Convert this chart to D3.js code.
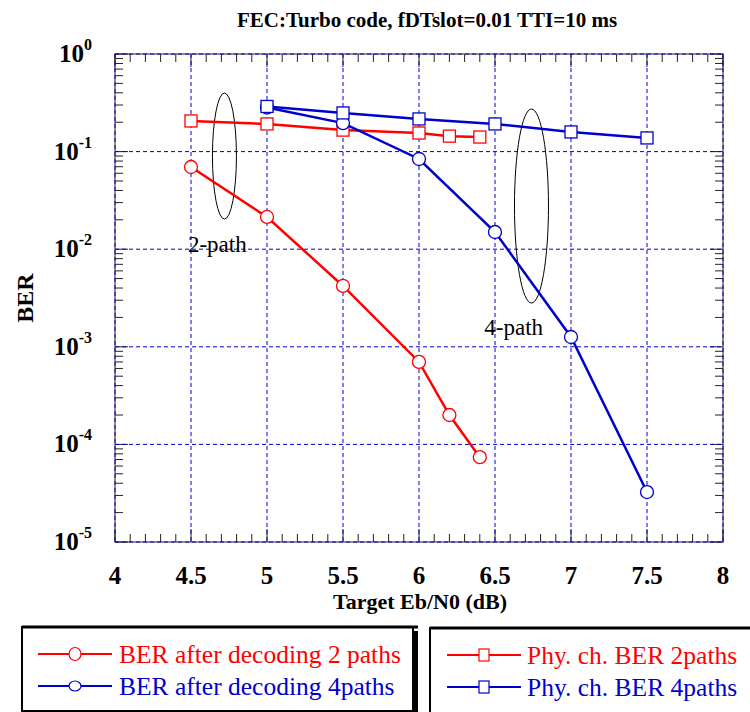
<!DOCTYPE html>
<html>
<head>
<meta charset="utf-8">
<script src="https://cdn.jsdelivr.net/npm/d3@7"></script>
<style>
  body { margin: 0; background: #fff; }
  svg { display: block; }
  svg text { font-family: "Times New Roman", Times, "Liberation Serif", "DejaVu Serif", serif; }
</style>
</head>
<body>
<div id="chart"></div>
<script>
// chart values
var ebn0_2p = [4.5, 5, 5.5, 6, 6.2, 6.4];
var ebn0_4p = [5, 5.5, 6, 6.5, 7, 7.5];
var ber_dec_2p = [0.0695, 0.0214, 0.0042, 0.0007, 0.0002, 0.000074];
var ber_dec_4p = [0.283, 0.196, 0.084, 0.015, 0.00126, 0.0000325];
var ber_phy_2p = [0.206, 0.192, 0.166, 0.155, 0.144, 0.141];
var ber_phy_4p = [0.29, 0.249, 0.216, 0.192, 0.159, 0.138];
var x_ticks = [4, 4.5, 5, 5.5, 6, 6.5, 7, 7.5, 8];
var y_exps = [0, -1, -2, -3, -4, -5];
var legend_left = ["BER after decoding 2 paths", "BER after decoding 4paths"];
var legend_right = ["Phy. ch. BER 2paths", "Phy. ch. BER 4paths"];

var RED = "#ff0000", BLUE = "#0000cc";

var W = 750, H = 712;
var pLeft = 115, pRight = 723, pTop = 54, pBottom = 542;

var svg = d3.select("#chart").append("svg")
  .attr("width", W).attr("height", H);

var x = d3.scaleLinear().domain([4, 8]).range([pLeft, pRight]);
var y = d3.scaleLog().domain([1e-5, 1]).range([pBottom, pTop]);

// title
svg.append("text")
  .attr("x", 427).attr("y", 27)
  .attr("text-anchor", "middle")
  .style("font-size", "21px").style("font-weight", "bold")
  .text("FEC:Turbo code, fDTslot=0.01 TTI=10 ms");

// frame
svg.append("rect")
  .attr("x", pLeft).attr("y", pTop)
  .attr("width", pRight - pLeft).attr("height", pBottom - pTop)
  .attr("fill", "none").attr("stroke", "#444").attr("stroke-width", 1.2);

// minor / major ticks, inward on all four sides
var g_ticks = svg.append("g").attr("stroke", "#222").attr("stroke-width", 1);
var xminor = d3.range(40, 81).map(function(d) { return d / 10; });
xminor.forEach(function(v) {
  var major = Math.abs(v * 2 - Math.round(v * 2)) < 1e-6;
  var len = major ? 13 : 8;
  g_ticks.append("line").attr("x1", x(v)).attr("x2", x(v))
    .attr("y1", pBottom).attr("y2", pBottom - len);
  g_ticks.append("line").attr("x1", x(v)).attr("x2", x(v))
    .attr("y1", pTop).attr("y2", pTop + len);
});
y.ticks().forEach(function(v) {
  var major = Math.abs(Math.log10(v) - Math.round(Math.log10(v))) < 1e-6;
  var len = major ? 13 : 8;
  g_ticks.append("line").attr("x1", pLeft).attr("x2", pLeft + len)
    .attr("y1", y(v)).attr("y2", y(v));
  g_ticks.append("line").attr("x1", pRight).attr("x2", pRight - len)
    .attr("y1", y(v)).attr("y2", y(v));
});

// dashed grid
var grid = svg.append("g")
  .attr("stroke", BLUE).attr("stroke-width", 1).attr("stroke-dasharray", "4,3");
x_ticks.forEach(function(v) {
  grid.append("line").attr("x1", x(v)).attr("x2", x(v))
    .attr("y1", pTop).attr("y2", pBottom);
});
y_exps.forEach(function(e) {
  grid.append("line").attr("x1", pLeft).attr("x2", pRight)
    .attr("y1", y(Math.pow(10, e))).attr("y2", y(Math.pow(10, e)));
});

// x tick labels
svg.append("g").selectAll("text")
  .data(x_ticks).enter().append("text")
  .attr("x", function(d) { return x(d); })
  .attr("y", 584)
  .attr("text-anchor", "middle")
  .style("font-size", "25px").style("font-weight", "bold")
  .text(function(d) { return d; });

// y tick labels, 10 with superscript exponent
var ylab = svg.append("g").selectAll("text")
  .data(y_exps).enter().append("text")
  .attr("x", 92)
  .attr("y", function(d) { return y(Math.pow(10, d)) + 8; })
  .attr("text-anchor", "end")
  .style("font-size", "25px").style("font-weight", "bold");
ylab.append("tspan").text("10");
ylab.append("tspan")
  .attr("dy", -12)
  .style("font-size", "16px")
  .text(function(d) { return d; });

// axis titles
svg.append("text")
  .attr("x", 420).attr("y", 609)
  .attr("text-anchor", "middle")
  .style("font-size", "22px").style("font-weight", "bold")
  .text("Target Eb/N0 (dB)");
svg.append("text")
  .attr("transform", "translate(33," + ((pTop + pBottom) / 2) + ") rotate(-90)")
  .attr("text-anchor", "middle")
  .style("font-size", "24px").style("font-weight", "bold")
  .text("BER");

// annotation ellipses + labels
svg.append("ellipse")
  .attr("cx", x(4.72)).attr("cy", y(0.09))
  .attr("rx", 12).attr("ry", 63)
  .attr("fill", "none").attr("stroke", "#000").attr("stroke-width", 1);
svg.append("text")
  .attr("x", x(4.48)).attr("y", y(0.0093))
  .style("font-size", "23px")
  .text("2-path");
svg.append("ellipse")
  .attr("cx", x(6.74)).attr("cy", y(0.0277))
  .attr("rx", 17).attr("ry", 97)
  .attr("fill", "none").attr("stroke", "#000").attr("stroke-width", 1);
svg.append("text")
  .attr("x", x(6.43)).attr("y", y(0.00132))
  .style("font-size", "23px")
  .text("4-path");

function draw_series(xs, ys, color, shape) {
  var pts = xs.map(function(v, i) { return [v, ys[i]]; });
  svg.append("path")
    .datum(pts)
    .attr("fill", "none").attr("stroke", color).attr("stroke-width", 2.5)
    .attr("d", d3.line()
      .x(function(d) { return x(d[0]); })
      .y(function(d) { return y(d[1]); }));
  if (shape === "circle") {
    svg.append("g").selectAll("circle")
      .data(pts).enter().append("circle")
      .attr("cx", function(d) { return x(d[0]); })
      .attr("cy", function(d) { return y(d[1]); })
      .attr("r", 6.5)
      .attr("fill", "#fff").attr("stroke", color).attr("stroke-width", 1.3);
  } else {
    svg.append("g").selectAll("rect")
      .data(pts).enter().append("rect")
      .attr("x", function(d) { return x(d[0]) - 6; })
      .attr("y", function(d) { return y(d[1]) - 6; })
      .attr("width", 12).attr("height", 12)
      .attr("fill", "#fff").attr("stroke", color).attr("stroke-width", 1.3);
  }
}

draw_series(ebn0_2p, ber_phy_2p, RED, "square");
draw_series(ebn0_2p, ber_dec_2p, RED, "circle");
draw_series(ebn0_4p, ber_dec_4p, BLUE, "circle");
draw_series(ebn0_4p, ber_phy_4p, BLUE, "square");

// legends
function legend_box(bx, by, bw, bh, labels, shape, lineX0, lineX1, textX) {
  var g = svg.append("g");
  g.append("rect")
    .attr("x", bx + bw).attr("y", by + 4)
    .attr("width", 5).attr("height", bh)
    .attr("fill", "#000");
  g.append("rect")
    .attr("x", bx).attr("y", by)
    .attr("width", bw).attr("height", bh)
    .attr("fill", "#fff").attr("stroke", "#000").attr("stroke-width", 2);
  g.append("line")
    .attr("x1", bx).attr("x2", bx + bw + 5)
    .attr("y1", by).attr("y2", by)
    .attr("stroke", "#000").attr("stroke-width", 3);
  [RED, BLUE].forEach(function(c, i) {
    var yy = by + 27 + i * 32;
    var cx = (lineX0 + lineX1) / 2;
    g.append("line")
      .attr("x1", lineX0).attr("x2", lineX1)
      .attr("y1", yy).attr("y2", yy)
      .attr("stroke", c).attr("stroke-width", 2);
    if (shape === "circle") {
      g.append("ellipse")
        .attr("cx", cx).attr("cy", yy).attr("rx", 6).attr("ry", i === 0 ? 6.5 : 5)
        .attr("fill", "#fff").attr("stroke", c).attr("stroke-width", 1.2);
    } else {
      g.append("rect")
        .attr("x", cx - 5).attr("y", yy - 6).attr("width", 10).attr("height", 12)
        .attr("fill", "#fff").attr("stroke", c).attr("stroke-width", 1.2);
    }
    g.append("text")
      .attr("x", textX).attr("y", yy + 9)
      .attr("fill", c)
      .style("font-size", "25.5px")
      .text(labels[i]);
  });
}

legend_box(22, 627, 391, 84, legend_left, "circle", 38, 112, 119);
legend_box(430, 628, 340, 90, legend_right, "square", 447, 521, 527);
</script>
</body>
</html>
